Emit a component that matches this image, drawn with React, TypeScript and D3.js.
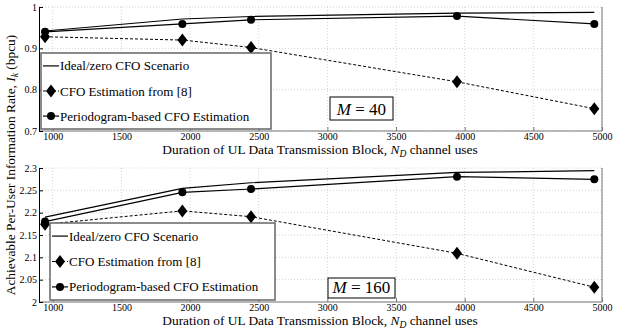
import { useRef, useEffect } from "react";
import * as d3 from "d3";

// block durations N_D
const durations = [944, 1944, 2444, 3944, 4944];

// M = 40
const ideal40 = [0.942, 0.971, 0.977, 0.985, 0.987];
const cfo40 = [0.928, 0.92, 0.902, 0.819, 0.754];
const pgram40 = [0.94, 0.959, 0.969, 0.978, 0.959];

// M = 160
const ideal160 = [2.19, 2.2545, 2.267, 2.29, 2.294];
const cfo160 = [2.174, 2.204, 2.191, 2.109, 2.033];
const pgram160 = [2.18, 2.2456, 2.253, 2.2806, 2.2747];

const xTicks = [1000, 1500, 2000, 2500, 3000, 3500, 4000, 4500, 5000];
const yTicks40 = [0.7, 0.8, 0.9, 1];
const yTicks160 = [2, 2.05, 2.1, 2.15, 2.2, 2.25, 2.3];

const legendLabels = ["Ideal/zero CFO Scenario", "CFO Estimation from [8]", "Periodogram-based CFO Estimation"];

const W = 623;
const H = 332;
const left = 39;
const right = 602;
const font = "Liberation Serif";

function diamond(cx, cy) {
  const p = d3.path();
  p.moveTo(cx, cy - 6.5);
  p.lineTo(cx + 5, cy);
  p.lineTo(cx, cy + 6.5);
  p.lineTo(cx - 5, cy);
  p.closePath();
  return p.toString();
}

function drawPanel(svg, opts) {
  const { top, bottom, yDomain, yTicks, ideal, cfo, pgram, fmt, legend, mLabel } = opts;

  const x = d3.scaleLinear().domain([900, 5000]).range([left, right]);
  const y = d3.scaleLinear().domain(yDomain).range([bottom, top]);

  const g = svg.append("g");

  // grid
  g.append("g")
    .selectAll("line")
    .data(xTicks)
    .join("line")
    .attr("x1", (d) => x(d))
    .attr("x2", (d) => x(d))
    .attr("y1", top)
    .attr("y2", bottom)
    .attr("stroke", "#c8c8c8")
    .attr("stroke-width", 0.8)
    .attr("stroke-dasharray", "1,2");
  g.append("g")
    .selectAll("line")
    .data(yTicks)
    .join("line")
    .attr("x1", left)
    .attr("x2", right)
    .attr("y1", (d) => y(d))
    .attr("y2", (d) => y(d))
    .attr("stroke", "#c8c8c8")
    .attr("stroke-width", 0.8)
    .attr("stroke-dasharray", "1,2");

  // frame: gray right + bottom, black left
  g.append("line").attr("x1", left).attr("x2", right).attr("y1", bottom).attr("y2", bottom).attr("stroke", "#777").attr("stroke-width", 1);
  g.append("line").attr("x1", right).attr("x2", right).attr("y1", top).attr("y2", bottom).attr("stroke", "#777").attr("stroke-width", 1);

  // y axis
  const yAxis = d3.axisLeft(y).tickValues(yTicks).tickSize(-4).tickPadding(2).tickFormat(fmt);
  const ya = g.append("g").attr("transform", `translate(${left},0)`).call(yAxis);
  ya.select(".domain").attr("stroke", "#000");
  ya.selectAll("text").attr("font-family", font).attr("font-size", 10).attr("fill", "#000");

  // x axis
  const xAxis = d3.axisBottom(x).tickValues(xTicks).tickSize(-4).tickPadding(2).tickFormat(d3.format("d"));
  const xa = g.append("g").attr("transform", `translate(0,${bottom})`).call(xAxis);
  xa.select(".domain").remove();
  xa.selectAll("line").attr("stroke", "#777");
  xa.selectAll("text").attr("font-family", font).attr("font-size", 10).attr("fill", "#000");

  const line = d3
    .line()
    .x((d, i) => x(durations[i]))
    .y((d) => y(d));

  // ideal
  g.append("path").attr("d", line(ideal)).attr("fill", "none").attr("stroke", "#000").attr("stroke-width", 1.2);
  // periodogram
  g.append("path").attr("d", line(pgram)).attr("fill", "none").attr("stroke", "#000").attr("stroke-width", 1.2);
  g.append("g")
    .selectAll("circle")
    .data(pgram)
    .join("circle")
    .attr("cx", (d, i) => x(durations[i]))
    .attr("cy", (d) => y(d))
    .attr("r", 4)
    .attr("fill", "#000");
  // cfo [8]
  g.append("path").attr("d", line(cfo)).attr("fill", "none").attr("stroke", "#000").attr("stroke-width", 1).attr("stroke-dasharray", "3,2");
  g.append("g")
    .selectAll("path")
    .data(cfo)
    .join("path")
    .attr("d", (d, i) => diamond(x(durations[i]), y(d)))
    .attr("fill", "#000");

  // legend
  const lg = g.append("g");
  lg.append("rect")
    .attr("x", legend.x)
    .attr("y", legend.y)
    .attr("width", legend.w)
    .attr("height", legend.h)
    .attr("fill", "#fff")
    .attr("stroke", "#666")
    .attr("stroke-width", 1.5);
  legendLabels.forEach((label, i) => {
    const cy = legend.y + legend.h * (0.17 + i * 0.33);
    const x0 = legend.x + 2;
    const x1 = x0 + 16;
    if (i === 1) lg.append("line").attr("x1", x0).attr("x2", x1).attr("y1", cy).attr("y2", cy).attr("stroke", "#000").attr("stroke-dasharray", "3,2");
    else lg.append("line").attr("x1", x0).attr("x2", x1).attr("y1", cy).attr("y2", cy).attr("stroke", "#000").attr("stroke-width", 1.2);
    if (i === 1) lg.append("path").attr("d", diamond((x0 + x1) / 2, cy)).attr("fill", "#000");
    if (i === 2) lg.append("circle").attr("cx", (x0 + x1) / 2).attr("cy", cy).attr("r", 4).attr("fill", "#000");
    lg.append("text")
      .attr("x", x1 + 1)
      .attr("y", cy + 4.5)
      .attr("font-family", font)
      .attr("font-size", 13)
      .text(label);
  });

  // M box
  const mb = g.append("g");
  mb.append("rect")
    .attr("x", mLabel.x)
    .attr("y", mLabel.y)
    .attr("width", mLabel.w)
    .attr("height", mLabel.h)
    .attr("fill", "#fff")
    .attr("stroke", "#000")
    .attr("stroke-width", 1);
  const mt = mb.append("text")
    .attr("x", mLabel.x + mLabel.w / 2)
    .attr("y", mLabel.y + mLabel.h - 5)
    .attr("text-anchor", "middle")
    .attr("font-family", font)
    .attr("font-size", 17);
  mt.append("tspan").attr("font-style", "italic").text("M");
  mt.append("tspan").text(` = ${mLabel.text}`);

  // x label
  const xl = g.append("text")
    .attr("x", 320)
    .attr("y", bottom + 23)
    .attr("text-anchor", "middle")
    .attr("font-family", font)
    .attr("font-size", 13.4);
  xl.append("tspan").text("Duration of UL Data Transmission Block, ");
  xl.append("tspan").attr("font-style", "italic").text("N");
  xl.append("tspan").attr("font-style", "italic").attr("font-size", 9.5).attr("dy", 3).text("D");
  xl.append("tspan").attr("dy", -3).text(" channel uses");
}

const App = () => {
  const ref = useRef(null);

  useEffect(() => {
    const svg = d3.select(ref.current);
    svg.selectAll("*").remove();

    svg.append("rect").attr("width", W).attr("height", H).attr("fill", "#fff");

    drawPanel(svg, {
      top: 7,
      bottom: 131,
      yDomain: [0.7, 1],
      yTicks: yTicks40,
      ideal: ideal40,
      cfo: cfo40,
      pgram: pgram40,
      fmt: (d) => (d === 1 ? "1" : d3.format(".1f")(d)),
      legend: { x: 41, y: 53, w: 230, h: 76 },
      mLabel: { x: 330, y: 97, w: 63, h: 23, text: "40" },
    });

    drawPanel(svg, {
      top: 168,
      bottom: 302,
      yDomain: [2, 2.3],
      yTicks: yTicks160,
      ideal: ideal160,
      cfo: cfo160,
      pgram: pgram160,
      fmt: (d) => d3.format("~g")(d),
      legend: { x: 50, y: 223, w: 225, h: 77 },
      mLabel: { x: 328, y: 278, w: 67, h: 20, text: "160" },
    });

    // shared y label
    const yl = svg.append("text")
      .attr("transform", "translate(15,165) rotate(-90)")
      .attr("text-anchor", "middle")
      .attr("font-family", font)
      .attr("font-size", 13.4);
    yl.append("tspan").text("Achievable Per-User Information Rate, ");
    yl.append("tspan").attr("font-style", "italic").text("I");
    yl.append("tspan").attr("font-style", "italic").attr("font-size", 9.5).attr("dy", 3).text("k");
    yl.append("tspan").attr("dy", -3).text(" (bpcu)");
  }, []);

  return (
    <svg ref={ref} width={W} height={H} style={{ position: "absolute", left: 0, top: 0 }} />
  );
};

export default App;
